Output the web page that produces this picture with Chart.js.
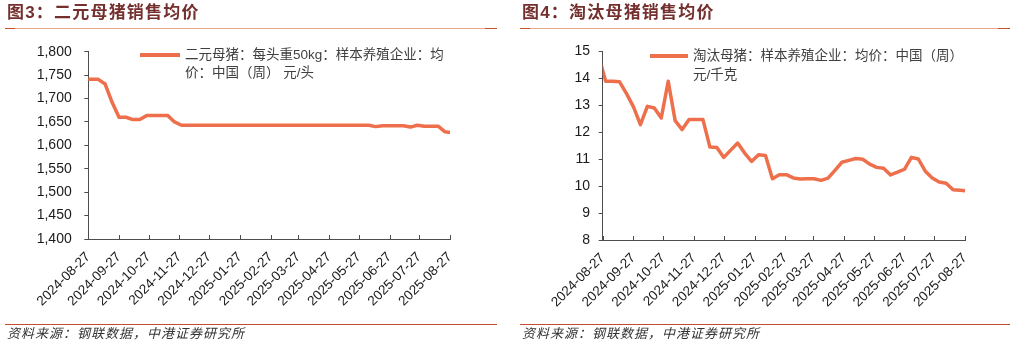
<!DOCTYPE html>
<html><head><meta charset="utf-8">
<script src="https://cdn.jsdelivr.net/npm/chart.js@4/dist/chart.umd.min.js"></script>
<style>
html,body{margin:0;padding:0;background:#fff;}
#wrap{position:relative;width:1017px;height:346px;overflow:hidden;font-family:"Liberation Sans","Noto Sans CJK SC",sans-serif;}
canvas{position:absolute;top:0;}
.title{position:absolute;top:2px;font-size:17px;font-weight:700;color:#74302e;letter-spacing:1.2px;line-height:22px;white-space:nowrap;}
.rtop{position:absolute;top:28px;height:1px;background:linear-gradient(to right,#c4502c 0,#c4502c 10px,#e6a78e 10px,#e6a78e calc(100% - 12px),#c4502c calc(100% - 12px));}
.rbot{position:absolute;top:324px;height:1px;background:#c44a30;}
.src{position:absolute;top:325px;font-size:13px;font-style:italic;color:#333;letter-spacing:1px;line-height:18px;white-space:nowrap;}
.leg{position:absolute;font-size:13.5px;color:#404040;line-height:18.5px;white-space:nowrap;}
.legline{position:absolute;height:4px;background:#ee6f4b;}
</style></head>
<body><div id="wrap">
<canvas id="c1" width="505" height="346" style="left:0;width:505px;height:346px"></canvas>
<canvas id="c2" width="505" height="346" style="left:510px;width:505px;height:346px"></canvas>
<div class="title" style="left:7px">图3：二元母猪销售均价</div>
<div class="title" style="left:522px">图4：淘汰母猪销售均价</div>
<div class="rtop" style="left:5px;width:492px"></div>
<div class="rtop" style="left:520px;width:490px"></div>
<div class="legline" style="left:140px;top:53px;width:40px"></div>
<div class="leg" style="left:185px;top:45.8px">二元母猪：每头重50kg：样本养殖企业：均<br>价：中国（周） 元/头</div>
<div class="legline" style="left:650px;top:54px;width:38px"></div>
<div class="leg" style="left:693px;top:47px">淘汰母猪：样本养殖企业：均价：中国（周）<br>元/千克</div>
<div class="rbot" style="left:5px;width:492px"></div>
<div class="rbot" style="left:520px;width:490px"></div>
<div class="src" style="left:7px">资料来源：钢联数据，中港证券研究所</div>
<div class="src" style="left:522px">资料来源：钢联数据，中港证券研究所</div>
</div>
<script>
const weekDates = ['2024-08-23','2024-08-30','2024-09-06','2024-09-13','2024-09-20','2024-09-27','2024-10-04','2024-10-11','2024-10-18','2024-10-25','2024-11-01','2024-11-08','2024-11-15','2024-11-22','2024-11-29','2024-12-06','2024-12-13','2024-12-20','2024-12-27','2025-01-03','2025-01-10','2025-01-17','2025-01-24','2025-01-31','2025-02-07','2025-02-14','2025-02-21','2025-02-28','2025-03-07','2025-03-14','2025-03-21','2025-03-28','2025-04-04','2025-04-11','2025-04-18','2025-04-25','2025-05-02','2025-05-09','2025-05-16','2025-05-23','2025-05-30','2025-06-06','2025-06-13','2025-06-20','2025-06-27','2025-07-04','2025-07-11','2025-07-18','2025-07-25','2025-08-01','2025-08-08','2025-08-15','2025-08-22','2025-08-29'];
const binarySowPrice = [1741,1741,1741,1731,1692,1660,1660,1655,1655,1664,1664,1664,1664,1650,1643,1643,1643,1643,1643,1643,1643,1643,1643,1643,1643,1643,1643,1643,1643,1643,1643,1643,1643,1643,1643,1643,1643,1643,1643,1643,1643,1643,1640,1642,1642,1642,1642,1639,1643,1641,1641,1641,1629,1627];
const cullSowPrice = [14.8,13.88,13.88,13.86,13.42,12.93,12.27,12.95,12.89,12.52,13.88,12.42,12.09,12.46,12.46,12.46,11.44,11.43,11.06,11.33,11.59,11.22,10.91,11.16,11.13,10.27,10.42,10.42,10.3,10.26,10.27,10.27,10.21,10.29,10.58,10.88,10.95,11.02,10.99,10.81,10.69,10.66,10.41,10.51,10.62,11.06,11.0,10.55,10.3,10.15,10.1,9.86,9.84,9.82];
const monthTicks = ['2024-08-27','2024-09-27','2024-10-27','2024-11-27','2024-12-27','2025-01-27','2025-02-27','2025-03-27','2025-04-27','2025-05-27','2025-06-27','2025-07-27','2025-08-27'];
const leftYTicks = [1400,1450,1500,1550,1600,1650,1700,1750,1800];
const rightYTicks = [8,9,10,11,12,13,14,15];

const dayOf = s => { const p = s.split('-').map(Number); return Date.UTC(p[0], p[1]-1, p[2]) / 86400000; };
const AXIS = '#4d4d4d';
const innerXTicks = {
  id: 'innerXTicks',
  afterDraw(chart) {
    const s = chart.scales.x, c = chart.ctx, b = chart.chartArea.bottom;
    c.save(); c.strokeStyle = AXIS; c.lineWidth = 1; c.beginPath();
    s.ticks.forEach(t => { const px = Math.round(s.getPixelForValue(t.value)) + 0.5; c.moveTo(px, b); c.lineTo(px, b - 4); });
    c.stroke(); c.restore();
  }
};

function makeChart(id, values, yTicks, cfg) {
  new Chart(document.getElementById(id), {
    type: 'line',
    data: { datasets: [{
      data: weekDates.map((d, i) => ({ x: dayOf(d), y: values[i] })),
      borderColor: '#ee6f4b', borderWidth: 3.5, pointRadius: 0, tension: 0, fill: false,
      borderJoinStyle: 'round', borderCapStyle: 'butt'
    }]},
    options: {
      responsive: false, animation: false, devicePixelRatio: 1,
      layout: { padding: { left: 0, right: cfg.padRight, top: cfg.padTop, bottom: 0 } },
      plugins: { legend: { display: false }, tooltip: { enabled: false } },
      scales: {
        x: {
          type: 'linear',
          min: dayOf(monthTicks[0]), max: dayOf(monthTicks[monthTicks.length - 1]),
          afterBuildTicks: s => { s.ticks = monthTicks.map(t => ({ value: dayOf(t) })); },
          afterFit: s => { s.height = cfg.xHeight; },
          ticks: { autoSkip: false, minRotation: 45, maxRotation: 45, padding: 10, color: '#1a1a1a',
                   font: { family: 'Liberation Sans', size: 13.5 }, callback: (v, i) => monthTicks[i] },
          grid: { display: true, drawOnChartArea: false, drawTicks: false },
          border: { display: true, color: AXIS, width: 1 }
        },
        y: {
          min: yTicks[0], max: yTicks[yTicks.length - 1],
          afterBuildTicks: s => { s.ticks = yTicks.map(v => ({ value: v })); },
          afterFit: s => { s.width = cfg.yWidth; },
          ticks: { padding: cfg.yPad, color: '#1a1a1a', font: { family: 'Liberation Sans', size: 14 },
                   callback: v => v.toLocaleString('en-US') },
          grid: { display: true, drawOnChartArea: false, drawTicks: true, tickLength: 4, color: AXIS },
          border: { display: true, color: AXIS, width: 1 }
        }
      }
    },
    plugins: [innerXTicks]
  });
}
makeChart('c1', binarySowPrice, leftYTicks, { yWidth: 88.3, padRight: 55, padTop: 51.7, xHeight: 107, yPad: 12.6 });
makeChart('c2', cullSowPrice, rightYTicks, { yWidth: 92.7, padRight: 50, padTop: 51, xHeight: 106, yPad: 8.7 });
</script>
</body></html>
